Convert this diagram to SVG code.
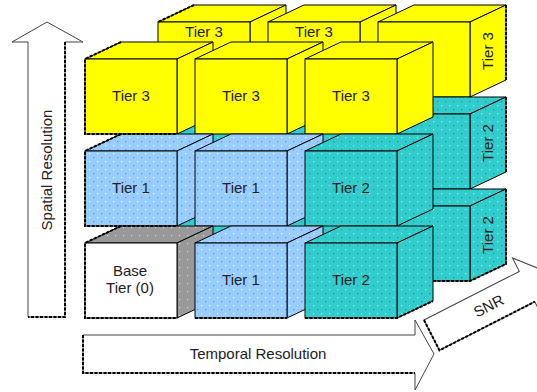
<svg xmlns="http://www.w3.org/2000/svg" width="537" height="392" viewBox="0 0 537 392">
<defs>
<pattern id="dotB" width="8" height="8" patternUnits="userSpaceOnUse"><rect width="8" height="8" fill="#99CCFF"/><rect x="1" y="1" width="1.2" height="1.2" fill="#E6FFFF"/><rect x="5" y="5" width="1.2" height="1.2" fill="#5F8FF0"/></pattern>
<pattern id="dotT" width="8" height="8" patternUnits="userSpaceOnUse"><rect width="8" height="8" fill="#33CCCC"/><rect x="1" y="1" width="1.2" height="1.2" fill="#7FFFFF"/><rect x="5" y="5" width="1.2" height="1.2" fill="#1A9A9A"/></pattern>
<pattern id="dotG" width="8" height="8" patternUnits="userSpaceOnUse"><rect width="8" height="8" fill="#999999"/><rect x="3" y="3" width="1.2" height="1.2" fill="#D8D8D8"/></pattern>
<style>
.f{stroke:#000;stroke-width:1;stroke-linejoin:miter}
.y{fill:#FFFF00}
.b{fill:url(#dotB)}
.t{fill:url(#dotT)}
.g{fill:url(#dotG)}
.w{fill:#FFFFFF}
.lbl{font-family:"Liberation Sans",Arial,sans-serif;font-size:15px;fill:#222;text-anchor:middle}
.sh{fill:none;stroke:#000;stroke-width:2;stroke-dasharray:3 1.5}
.arr{fill:#FFFFFF;stroke:#444;stroke-width:1}
</style>
</defs>
<rect width="537" height="392" fill="#FFFFFF"/>

<!-- Back row -->
<g id="b-t1"><polygon class="f y" points="158,22 250,22 286,5 194,5"/><polygon class="f y" points="250,22 286,5 286,80 250,97"/><rect class="f y" x="158" y="22" width="92" height="75"/><text class="lbl" x="204" y="37">Tier 3</text></g>
<g id="b-t2"><polygon class="f y" points="268,22 360,22 396,5 304,5"/><polygon class="f y" points="360,22 396,5 396,80 360,97"/><rect class="f y" x="268" y="22" width="92" height="75"/><text class="lbl" x="314" y="37">Tier 3</text></g>
<g id="b-t3"><polygon class="f y" points="378,22 470,22 506,5 414,5"/><polygon class="f y" points="470,22 506,5 506,80 470,97"/><rect class="f y" x="378" y="22" width="92" height="75"/><text class="lbl" transform="translate(493,51) rotate(-90)">Tier 3</text></g>
<g id="b-m1"><polygon class="f t" points="158,114 250,114 286,97 194,97"/><polygon class="f t" points="250,114 286,97 286,172 250,189"/><rect class="f t" x="158" y="114" width="92" height="75"/></g>
<g id="b-m2"><polygon class="f t" points="268,114 360,114 396,97 304,97"/><polygon class="f t" points="360,114 396,97 396,172 360,189"/><rect class="f t" x="268" y="114" width="92" height="75"/></g>
<g id="b-m3"><polygon class="f t" points="378,114 470,114 506,97 414,97"/><polygon class="f t" points="470,114 506,97 506,172 470,189"/><rect class="f t" x="378" y="114" width="92" height="75"/><text class="lbl" transform="translate(493,143) rotate(-90)">Tier 2</text></g>
<g id="b-b1"><polygon class="f t" points="158,206 250,206 286,189 194,189"/><polygon class="f t" points="250,206 286,189 286,264 250,281"/><rect class="f t" x="158" y="206" width="92" height="75"/></g>
<g id="b-b2"><polygon class="f t" points="268,206 360,206 396,189 304,189"/><polygon class="f t" points="360,206 396,189 396,264 360,281"/><rect class="f t" x="268" y="206" width="92" height="75"/></g>
<g id="b-b3"><polygon class="f t" points="378,206 470,206 506,189 414,189"/><polygon class="f t" points="470,206 506,189 506,264 470,281"/><rect class="f t" x="378" y="206" width="92" height="75"/><text class="lbl" transform="translate(493,235) rotate(-90)">Tier 2</text></g>

<!-- Front row -->
<g id="f-t1"><polygon class="f y" points="85,59 177,59 213,42 121,42"/><polygon class="f y" points="177,59 213,42 213,117 177,134"/><rect class="f y" x="85" y="59" width="92" height="75"/><text class="lbl" x="131" y="101">Tier 3</text></g>
<g id="f-t2"><polygon class="f y" points="195,59 287,59 323,42 231,42"/><polygon class="f y" points="287,59 323,42 323,117 287,134"/><rect class="f y" x="195" y="59" width="92" height="75"/><text class="lbl" x="241" y="101">Tier 3</text></g>
<g id="f-t3"><polygon class="f y" points="305,59 397,59 433,42 341,42"/><polygon class="f y" points="397,59 433,42 433,117 397,134"/><rect class="f y" x="305" y="59" width="92" height="75"/><text class="lbl" x="351" y="101">Tier 3</text></g>
<g id="f-m1"><polygon class="f b" points="85,151 177,151 213,134 121,134"/><polygon class="f b" points="177,151 213,134 213,209 177,226"/><rect class="f b" x="85" y="151" width="92" height="75"/><text class="lbl" x="131" y="193">Tier 1</text></g>
<g id="f-m2"><polygon class="f b" points="195,151 287,151 323,134 231,134"/><polygon class="f b" points="287,151 323,134 323,209 287,226"/><rect class="f b" x="195" y="151" width="92" height="75"/><text class="lbl" x="241" y="193">Tier 1</text></g>
<g id="f-m3"><polygon class="f t" points="305,151 397,151 433,134 341,134"/><polygon class="f t" points="397,151 433,134 433,209 397,226"/><rect class="f t" x="305" y="151" width="92" height="75"/><text class="lbl" x="351" y="193">Tier 2</text></g>
<g id="f-b1"><polygon class="f g" points="85,243 177,243 213,226 121,226"/><polygon class="f g" points="177,243 213,226 213,301 177,318"/><rect class="f w" x="85" y="243" width="92" height="75"/><text class="lbl" x="130" y="276">Base</text><text class="lbl" x="130" y="293">Tier (0)</text></g>
<g id="f-b2"><polygon class="f b" points="195,243 287,243 323,226 231,226"/><polygon class="f b" points="287,243 323,226 323,301 287,318"/><rect class="f b" x="195" y="243" width="92" height="75"/><text class="lbl" x="241" y="285">Tier 1</text></g>
<g id="f-b3"><polygon class="f t" points="305,243 397,243 433,226 341,226"/><polygon class="f t" points="397,243 433,226 433,301 397,318"/><rect class="f t" x="305" y="243" width="92" height="75"/><text class="lbl" x="351" y="285">Tier 2</text></g>

<!-- shadow dashes -->
<g id="shadows">
<path class="sh" d="M121,42 L85,59 L85,134 L177,134"/>
<path class="sh" d="M121,134 L85,151 L85,226 L177,226"/>
<path class="sh" d="M121,226 L85,243 L85,318 L177,318"/>
<path class="sh" d="M195,318 L287,318"/>
<path class="sh" d="M305,318 L397,318 L433,301"/>
<path class="sh" d="M433,281 L470,281 L506,264 L506,189"/>
<path class="sh" d="M506,172 L506,97"/>
<path class="sh" d="M506,80 L506,5"/>
<path class="sh" d="M194,5 L158,22"/>
</g>

<!-- Arrows -->
<g id="connectors">
<g id="spatial">
<polygon class="arr" points="28,317 28,42 12,42 47,22 83,42 65,42 65,317"/>
<path class="sh" d="M65,42 L65,317 L28,317"/>
<text class="lbl" transform="translate(52,170) rotate(-90)">Spatial Resolution</text>
</g>
<g id="temporal">
<polygon class="arr" points="83,335 415,335 415,320 434,354 415,390 415,373 83,373"/>
<path class="sh" d="M83,335 L83,373 L415,373"/>
<text class="lbl" x="258" y="359">Temporal Resolution</text>
</g>
<g id="snr" transform="translate(424,320) rotate(-27)">
<polygon class="arr" points="0,0 107,0 107,-15 135,17 107,49 107,34 0,34"/>
<path class="sh" d="M0,0 L0,34 L107,34"/>
<text class="lbl" x="64" y="22">SNR</text>
</g>
</g>
</svg>
